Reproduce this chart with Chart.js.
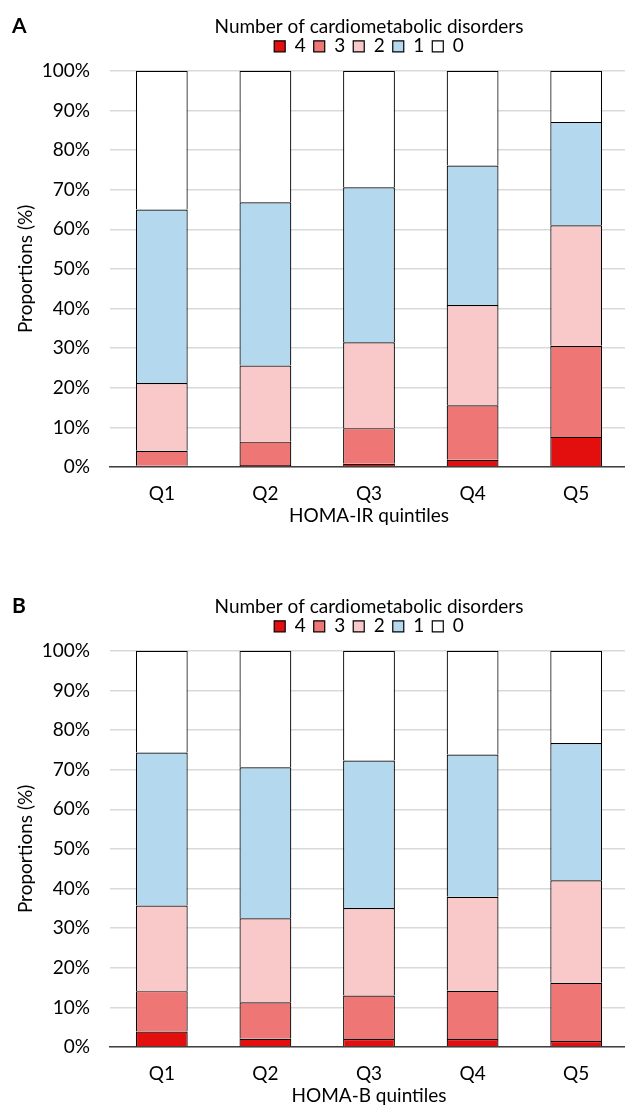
<!DOCTYPE html>
<html><head><meta charset="utf-8">
<script src="https://cdn.jsdelivr.net/npm/chart.js@4"></script>
<style>
html,body{margin:0;padding:0;background:#fff;overflow:hidden;width:625px;height:1112px}
#wrap{position:relative;width:625px;height:1112px;overflow:hidden;background:#fff}
.panel{position:absolute;left:0;width:628px;height:532px}
.lab{position:absolute;left:12px;font-family:Lato,sans-serif;font-weight:bold;font-size:21px;line-height:21px;color:#000}
</style></head><body>
<div id="wrap">
<div class="panel" style="top:0px"><canvas id="cA" width="628" height="532"></canvas></div>
<div class="panel" style="top:580px"><canvas id="cB" width="628" height="532"></canvas></div>
<div class="lab" style="top:14px">A</div>
<div class="lab" style="top:594px">B</div>
</div>
<script>
// ---- data ----
const categories = ['Q1', 'Q2', 'Q3', 'Q4', 'Q5'];
const levels = ['4', '3', '2', '1', '0'];
const yTickLabels = ['0%', '10%', '20%', '30%', '40%', '50%', '60%', '70%', '80%', '90%', '100%'];

// Panel A: HOMA-IR quintiles (segment proportions, %)
const irLevel4 = [0.3, 0.5, 0.8, 1.8, 7.6];
const irLevel3 = [3.8, 5.9, 9.0, 13.8, 23.0];
const irLevel2 = [17.1, 19.2, 21.7, 25.3, 30.4];
const irLevel1 = [43.8, 41.2, 39.1, 35.2, 26.1];
const irLevel0 = [35.0, 33.2, 29.4, 23.9, 12.9];

// Panel B: HOMA-B quintiles (segment proportions, %)
const bLevel4 = [3.9, 2.1, 2.0, 2.0, 1.5];
const bLevel3 = [10.2, 9.2, 11.0, 12.2, 14.7];
const bLevel2 = [21.6, 21.2, 22.1, 23.7, 25.9];
const bLevel1 = [38.6, 38.1, 37.2, 35.9, 34.6];
const bLevel0 = [25.7, 29.4, 27.7, 26.2, 23.3];

const legendTitle = 'Number of cardiometabolic disorders';
const yTitle = 'Proportions (%)';

// ---- styles ----
const FONT = 'Lato, sans-serif';
const colors = ['#E30E0E', '#EE7674', '#F9C8C8', '#B4D8ED', '#FFFFFF'];
Chart.defaults.color = '#000';

const legendGap = {
  id: 'legendGap',
  beforeInit(chart) {
    const lg = chart.legend;
    if (!lg) return;
    const orig = lg.fit;
    lg.fit = function () { orig.call(this); this.height += 5; };
  }
};

function makeChart(id, xTitle, series) {
  const f = {family: FONT, size: 19, weight: 'normal', lineHeight: 1.2};
  return new Chart(document.getElementById(id), {
    type: 'bar',
    data: {
      labels: categories,
      datasets: levels.map((lv, i) => ({
        label: lv,
        data: series[i],
        backgroundColor: colors[i],
        borderColor: '#000',
        borderWidth: 1.2,
        barPercentage: 1,
        categoryPercentage: 0.5
      }))
    },
    options: {
      responsive: false,
      animation: false,
      layout: {padding: 0},
      plugins: {
        title: {
          display: true, text: legendTitle, fullSize: false, color: '#000',
          font: f, padding: {top: 15, bottom: -9}
        },
        legend: {
          display: true, position: 'top', fullSize: false,
          labels: {color: '#000', font: f, boxWidth: 11, boxHeight: 11, padding: 8}
        },
        tooltip: {enabled: false}
      },
      scales: {
        x: {
          stacked: true,
          grid: {display: false},
          border: {display: true, color: '#404040', width: 1.5},
          ticks: {color: '#000', font: f, padding: 7},
          title: {display: true, text: xTitle, color: '#000', font: f, padding: {top: 0, bottom: 5}},
          afterFit(s) { s.height = 65; }
        },
        y: {
          stacked: true, min: 0, max: 100,
          ticks: {stepSize: 10, color: '#000', font: f, padding: 20,
                  callback: (v, i) => yTickLabels[i]},
          grid: {color: '#D9D9D9', lineWidth: 1.5, drawTicks: false},
          border: {display: false},
          title: {display: true, text: yTitle, color: '#000', font: f, padding: {top: 14.6, bottom: 0}},
          afterFit(s) { s.width = 110; }
        }
      }
    },
    plugins: [legendGap]
  });
}

makeChart('cA', 'HOMA-IR quintiles', [irLevel4, irLevel3, irLevel2, irLevel1, irLevel0]);
makeChart('cB', 'HOMA-B quintiles', [bLevel4, bLevel3, bLevel2, bLevel1, bLevel0]);
</script>
</body></html>
